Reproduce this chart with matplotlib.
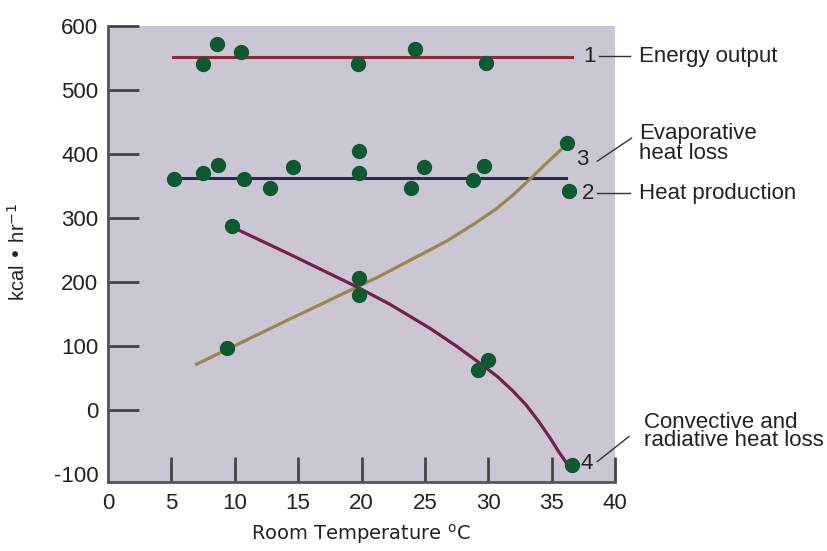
import numpy as np
import matplotlib.pyplot as plt

# data
energy_x = [7.5, 8.6, 10.5, 19.7, 24.2, 29.8]
energy_y = [541, 572, 560, 541, 564, 542]
energy_line_x = [5.1, 36.6]
energy_line_y = [552, 552]

heat_x = [5.2, 7.5, 8.7, 10.7, 12.8, 14.6, 19.8, 19.8, 23.9, 24.9, 28.8, 29.7, 36.4]
heat_y = [361, 370, 383, 361, 347, 380, 405, 370, 347, 380, 359, 382, 342]
heat_line_x = [5.1, 36.1]
heat_line_y = [362, 362]

evap_x = [9.4, 19.8, 19.8, 36.2]
evap_y = [97, 180, 206, 417]
evap_curve_x = [7.0, 9.5, 14.3, 19.6, 21.4, 24.0, 26.7, 28.8, 30.6, 32.0, 33.4, 34.6, 35.9, 36.2]
evap_curve_y = [72, 96, 142, 192, 209, 236, 264, 290, 314, 337, 363, 386, 410, 417]

conv_x = [9.8, 29.2, 30.0, 36.6]
conv_y = [287, 63, 78, -86]
conv_curve_x = [9.7, 14.3, 19.6, 22.2, 25.4, 27.5, 29.3, 30.7, 31.9, 33.0, 34.0, 34.9, 35.6, 36.3]
conv_curve_y = [287, 244, 193, 166, 128, 100, 74, 53, 31, 8, -18, -44, -66, -86]

x_ticks = [0, 5, 10, 15, 20, 25, 30, 35, 40]
y_ticks = [-100, 0, 100, 200, 300, 400, 500, 600]

plt.rcParams['font.family'] = ['Liberation Sans', 'DejaVu Sans']
plt.rcParams['axes.unicode_minus'] = False

fig = plt.figure(figsize=(8.28, 5.51), dpi=100)
ax = fig.add_axes([0.1304, 0.1252, 0.6124, 0.8276])
ax.set_facecolor('#cbc6d3')

green = '#0d5a30'
ax.plot(energy_line_x, energy_line_y, color='#8c2a35', lw=2.2)
ax.plot(heat_line_x, heat_line_y, color='#2a2a55', lw=2.2)
ax.plot(evap_curve_x, evap_curve_y, color='#9a8750', lw=2.3, solid_joinstyle='round')
ax.plot(conv_curve_x, conv_curve_y, color='#74204a', lw=2.3, solid_joinstyle='round')

for xs, ys in [(energy_x, energy_y), (heat_x, heat_y), (evap_x, evap_y), (conv_x, conv_y)]:
    ax.plot(xs, ys, 'o', color=green, ms=10, zorder=5)

ax.set_xlim(0, 40)
ax.set_ylim(-112, 600)
ax.set_xticks(x_ticks)
ax.set_yticks(y_ticks)
ax.tick_params(axis='both', direction='in', colors='#444444', labelcolor='#222222',
               labelsize=16, width=2)
ax.tick_params(axis='y', length=22, pad=7)
ax.tick_params(axis='x', length=18, pad=8)
# no tick marks at the origin / -100
ax.yaxis.get_major_ticks()[0].tick1line.set_visible(False)
ax.xaxis.get_major_ticks()[0].tick1line.set_visible(False)

for s in ['top', 'right']:
    ax.spines[s].set_visible(False)
for s in ['left', 'bottom']:
    ax.spines[s].set_color('#555555')
    ax.spines[s].set_linewidth(2)

fig.text(18 / 828, 1 - 252 / 551, 'kcal • hr$^{-1}$', fontsize=14.5, rotation=90,
         ha='center', va='center', color='#222222')
fig.text(361 / 828, 1 - 534 / 551, 'Room Temperature $^{\\mathrm{o}}$C', fontsize=14,
         ha='center', va='center', color='#222222', family=['DejaVu Sans'])

# right-hand labels
lab = dict(fontsize=16, color='#222222', clip_on=False, va='center')
ax.text(38.0, 553, '1', ha='center', **lab)
ax.plot([38.7, 41.2], [553, 553], color='#333333', lw=1, clip_on=False)
ax.text(41.9, 553, 'Energy output', ha='left', **lab)

ax.text(37.4, 392, '3', ha='center', **lab)
ax.plot([38.6, 41.3], [389, 425], color='#333333', lw=1, clip_on=False)
ax.text(41.9, 416, 'Evaporative\nheat loss', ha='left', linespacing=0.95, **lab)

ax.text(37.9, 339, '2', ha='center', **lab)
ax.plot([38.6, 41.2], [339, 339], color='#333333', lw=1, clip_on=False)
ax.text(41.9, 339, 'Heat production', ha='left', **lab)

ax.text(37.8, -83, '4', ha='center', **lab)
ax.plot([38.6, 41.1], [-80, -41], color='#333333', lw=1, clip_on=False)
ax.text(42.3, -33, 'Convective and\nradiative heat loss', ha='left', linespacing=0.8, **lab)

fig.savefig('out.png', dpi=100)
